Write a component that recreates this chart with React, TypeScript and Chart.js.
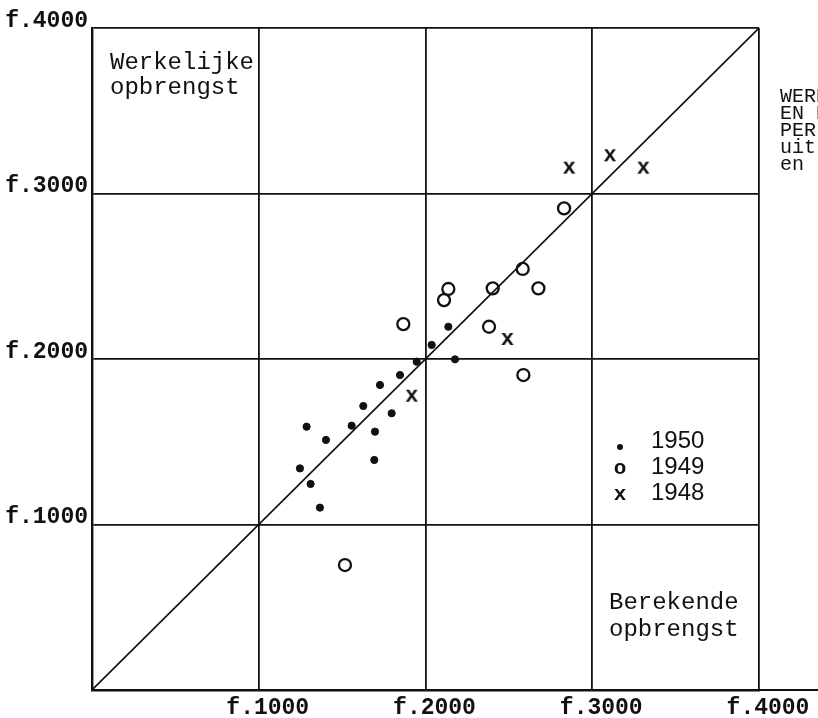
import React, { useEffect, useRef } from "react";
import { Chart, registerables } from "chart.js";

Chart.register(...registerables);

// ---- data ----
const TICK_VALUES = [1000, 2000, 3000, 4000];
const TICK_LABELS = ["f.1000", "f.2000", "f.3000", "f.4000"];

const SERIES_1950 = [
  { x: 2137, y: 2195 }, { x: 2037, y: 2085 }, { x: 1947, y: 1984 }, { x: 2177, y: 1998 },
  { x: 1847, y: 1903 }, { x: 1727, y: 1843 }, { x: 1627, y: 1716 }, { x: 1797, y: 1672 },
  { x: 1557, y: 1597 }, { x: 1697, y: 1561 }, { x: 1287, y: 1591 }, { x: 1403, y: 1511 },
  { x: 1693, y: 1390 }, { x: 1247, y: 1339 }, { x: 1311, y: 1245 }, { x: 1367, y: 1102 },
];
const SERIES_1949 = [
  { x: 2831, y: 2910 }, { x: 2583, y: 2544 }, { x: 2677, y: 2427 }, { x: 2403, y: 2427 },
  { x: 2137, y: 2423 }, { x: 2111, y: 2356 }, { x: 2381, y: 2195 }, { x: 2587, y: 1903 },
  { x: 1867, y: 2211 }, { x: 1517, y: 755 },
];
const SERIES_1948 = [
  { x: 2861, y: 3150 }, { x: 3106, y: 3225 }, { x: 3306, y: 3150 }, { x: 2491, y: 2115 },
  { x: 1917, y: 1772 },
];
const DIAGONAL = [{ x: 0, y: 0 }, { x: 4000, y: 4000 }];
const LEGEND_LABELS = ["1950", "1949", "1948"];
const Y_LABEL_LINES = ["Werkelijke", "opbrengst"];
const X_LABEL_LINES = ["Berekende", "opbrengst"];
const SIDE_TITLE = ["WERKELIJKE", "EN BEREKENDE", "PER", "uit", "en"];

const MONO = "'Liberation Mono', 'DejaVu Sans Mono', monospace";
const INK = "#111";

function makeGlyph(ch: string, size: number): HTMLCanvasElement {
  const c = document.createElement("canvas");
  c.width = 18;
  c.height = 18;
  const g = c.getContext("2d")!;
  g.fillStyle = INK;
  g.font = `bold ${size}px ${MONO}`;
  g.textAlign = "center";
  g.textBaseline = "middle";
  g.fillText(ch, 9, 8);
  return c;
}

export default function App() {
  const ref = useRef<HTMLCanvasElement | null>(null);

  useEffect(() => {
    if (!ref.current) return;
    const xGlyph = makeGlyph("x", 22);

    const annotations = {
      id: "annotations",
      afterDraw(chart: any) {
        const ctx = chart.ctx as CanvasRenderingContext2D;
        const area = chart.chartArea;
        ctx.save();
        // bottom axis extends to the right edge
        ctx.strokeStyle = INK;
        ctx.lineWidth = 2;
        ctx.beginPath();
        ctx.moveTo(area.right, area.bottom);
        ctx.lineTo(chart.width, area.bottom);
        ctx.stroke();

        ctx.fillStyle = INK;
        ctx.textBaseline = "middle";
        ctx.textAlign = "left";
        ctx.font = `24px ${MONO}`;
        ctx.fillText(Y_LABEL_LINES[0], 110, 63);
        ctx.fillText(Y_LABEL_LINES[1], 110, 88);
        ctx.fillText(X_LABEL_LINES[0], 609, 603);
        ctx.fillText(X_LABEL_LINES[1], 609, 630);

        ctx.font = `20px ${MONO}`;
        SIDE_TITLE.forEach((t, i) => ctx.fillText(t, 780, 97 + i * 17));

        // legend
        ctx.font = `24px 'Liberation Sans', Arial, sans-serif`;
        LEGEND_LABELS.forEach((t, i) => ctx.fillText(t, 651, 441 + i * 26));
        ctx.beginPath();
        ctx.arc(620, 447, 3, 0, Math.PI * 2);
        ctx.fill();
        ctx.font = `bold 21px ${MONO}`;
        ctx.textAlign = "center";
        ctx.fillText("o", 620, 469);
        ctx.fillText("x", 620, 495);
        ctx.restore();
      },
    };

    const chart = new Chart(ref.current, {
      type: "scatter",
      data: {
        datasets: [
          {
            type: "line",
            label: "diagonal",
            data: DIAGONAL,
            borderColor: INK,
            borderWidth: 1.6,
            pointRadius: 0,
            fill: false,
          } as any,
          {
            label: "1950",
            data: SERIES_1950,
            pointStyle: "circle",
            pointRadius: 3.6,
            backgroundColor: INK,
            borderColor: INK,
            borderWidth: 1,
          },
          {
            label: "1949",
            data: SERIES_1949,
            pointStyle: "circle",
            pointRadius: 6,
            backgroundColor: "rgba(255,255,255,0)",
            borderColor: INK,
            borderWidth: 2.3,
          },
          {
            label: "1948",
            data: SERIES_1948,
            pointStyle: xGlyph as any,
            pointRadius: 8,
          },
        ],
      },
      options: {
        animation: false,
        responsive: false,
        devicePixelRatio: 1,
        layout: { padding: { left: 0, top: 28, right: 59, bottom: 0 } },
        plugins: { legend: { display: false }, tooltip: { enabled: false } },
        scales: {
          x: {
            type: "linear",
            min: 0,
            max: 4000,
            afterBuildTicks: (scale: any) => {
              scale.ticks = [0, ...TICK_VALUES].map((v) => ({ value: v }));
            },
            afterFit: (scale: any) => {
              scale.height = 28;
            },
            grid: { color: INK, lineWidth: 1.8, drawTicks: false },
            border: { color: INK, width: 2.4 },
            ticks: {
              padding: 4,
              labelOffset: 9,
              maxRotation: 0,
              autoSkip: false,
              color: INK,
              font: { family: MONO, size: 23, weight: "bold" },
              callback: (v: any) => {
                const i = TICK_VALUES.indexOf(Number(v));
                return i >= 0 ? TICK_LABELS[i] : "";
              },
            },
          },
          y: {
            type: "linear",
            min: 0,
            max: 4000,
            afterBuildTicks: (scale: any) => {
              scale.ticks = [0, ...TICK_VALUES].map((v) => ({ value: v }));
            },
            afterFit: (scale: any) => {
              scale.width = 92;
            },
            grid: { color: INK, lineWidth: 1.8, drawTicks: false },
            border: { color: INK, width: 2.4 },
            ticks: {
              padding: 4,
              labelOffset: -7,
              autoSkip: false,
              color: INK,
              font: { family: MONO, size: 23, weight: "bold" },
              callback: (v: any) => {
                const i = TICK_VALUES.indexOf(Number(v));
                return i >= 0 ? TICK_LABELS[i] : "";
              },
            },
          },
        },
      },
      plugins: [annotations],
    } as any);

    return () => chart.destroy();
  }, []);

  return (
    <div style={{ position: "absolute", left: 0, top: 0, width: 818, height: 718, background: "#fff" }}>
      <canvas ref={ref} width={818} height={718} style={{ display: "block" }} />
    </div>
  );
}
